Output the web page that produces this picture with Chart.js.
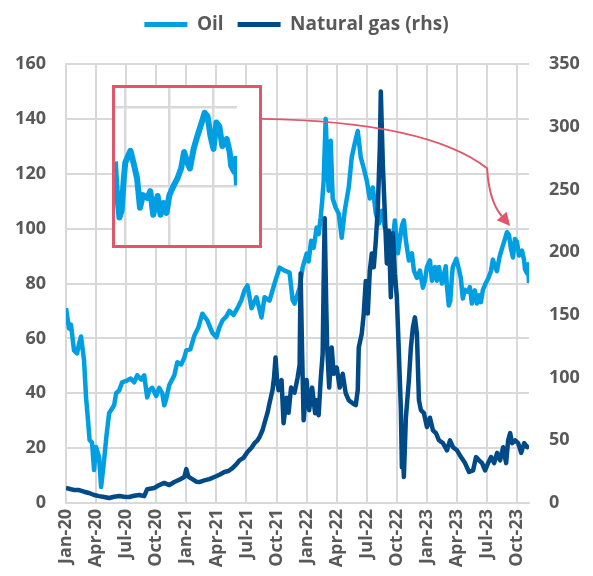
<!DOCTYPE html>
<html>
<head>
<meta charset="utf-8">
<script src="https://cdn.jsdelivr.net/npm/chart.js@4.4.0/dist/chart.umd.min.js"></script>
<style>
  body { margin: 0; background: #fff; }
  #wrap { position: relative; width: 593px; height: 576px; }
  #insetBox { position: absolute; left: 112px; top: 85px; width: 144px; height: 157px;
              border: 3px solid #e0566b; background: #fff; }
</style>
</head>
<body>
<div id="wrap">
  <canvas id="mainChart" width="593" height="576"></canvas>
  <div id="insetBox"><canvas id="insetChart" width="144" height="157"></canvas></div>
</div>
<script>
// months since Jan-20 (x) and prices
const xLabels = ["Jan-20","Apr-20","Jul-20","Oct-20","Jan-21","Apr-21","Jul-21","Oct-21",
                 "Jan-22","Apr-22","Jul-22","Oct-22","Jan-23","Apr-23","Jul-23","Oct-23"];

const oilMonths = [0,0.3,0.5,0.8,1.1,1.3,1.5,1.8,2.0,2.2,2.35,2.6,2.8,3.0,3.3,3.5,3.8,4.05,4.3,4.8,
  5.0,5.3,5.6,6.0,6.45,6.8,7.1,7.5,7.8,8.1,8.3,8.6,9.0,9.3,9.6,9.8,10.0,10.3,10.8,11.1,
  11.5,11.8,12.0,12.4,12.8,13.2,13.6,14.1,14.6,15.0,15.3,15.6,16.0,16.3,16.7,17.1,17.5,17.8,18.1,18.5,
  19.0,19.5,19.8,20.3,20.8,21.3,21.8,22.3,22.6,22.8,23.0,23.3,23.6,24.0,24.2,24.45,24.7,25.0,25.2,25.4,
  25.55,25.7,25.9,26.05,26.2,26.4,26.6,26.9,27.2,27.5,27.8,28.2,28.5,28.8,29.1,29.4,29.7,30.0,30.3,30.6,
  30.9,31.2,31.5,31.8,32.2,32.5,32.8,33.1,33.5,33.7,33.9,34.2,34.5,34.7,35.0,35.3,35.6,35.8,36.0,36.3,
  36.5,36.8,37.0,37.2,37.5,37.88,37.98,38.18,38.33,38.48,38.58,38.93,39.18,39.38,39.58,39.78,40.08,40.28,40.48,40.78,
  40.98,41.18,41.38,41.58,41.88,42.13,42.38,42.58,42.78,42.98,43.23,43.48,43.78,43.98,44.18,44.38,44.58,44.78,44.98,45.18,
  45.48,45.68,45.78,45.98,46.08,46.18];
const oilPrices = [71,63.6,65,55.6,54.5,58,60.7,52,38.5,30,23,22,12,20.4,16.7,5.8,15.6,25,32.7,35.6,
  40,41,44,44.5,45.4,44,46.5,45,46.5,38.5,41,42,39,42,40,35.6,38,43,46.5,51.3,
  50.5,53,55.6,56,61,64,69,66.5,62,60.4,64,66.5,68,70,68.5,71,74,77.5,79.3,71,
  75,67.6,75,73.8,80,85.8,84.7,84,74,72.7,75,78.5,85.8,90.9,88,95.6,93,100.4,98,104,
  110,117.5,140,125,113.8,132,111,107.6,105.5,96.7,106.5,115,126,131,135.6,126,122,117.5,111,115,
  105.5,101.8,106.5,100.4,96.7,93,103,91,101,103,95.6,88.4,91,84.7,82,84.7,78.5,81,86,88.4,
  81,86,81,86,80,86.3,79.5,72,73.7,82,86,89,85.3,82,74.5,77.7,77,78.7,72.7,77.5,
  72.7,75.7,73.2,77.7,80.2,82,84.5,88.7,86.2,84.5,89.5,92.7,96.2,98.7,97.7,92.7,89.5,96.2,95.2,90.2,
  92,88.7,85.2,83.7,87,80.2];

const gasMonths = [0,0.5,0.9,1.3,1.8,2.3,2.8,3.3,3.8,4.3,4.8,5.3,5.8,6.3,6.8,7.3,7.8,8.1,8.5,8.8,
  9.3,9.8,10.3,10.8,11.3,11.8,12.0,12.2,12.6,13.0,13.3,13.8,14.3,14.8,15.3,15.8,16.2,16.6,17.0,17.3,
  17.7,18.1,18.5,18.8,19.1,19.3,19.6,19.8,20.1,20.3,20.6,20.75,20.9,21.05,21.2,21.5,21.7,22.0,22.2,22.45,
  22.8,23.1,23.3,23.4,23.55,23.7,24.0,24.25,24.55,24.85,25.0,25.2,25.4,25.6,25.7,25.8,25.95,26.05,26.25,26.5,
  26.7,27.0,27.3,27.6,27.9,28.2,28.6,28.9,29.1,29.2,29.5,29.7,29.9,30.1,30.3,30.5,30.7,30.9,31.1,31.3,
  31.4,31.6,31.8,32.0,32.2,32.4,32.6,32.8,33.0,33.2,33.4,33.5,33.6,33.7,33.9,34.2,34.4,34.6,34.8,35.0,
  35.2,35.4,35.7,36.0,36.3,36.6,36.9,37.2,37.6,38.0,38.3,38.6,39.0,39.4,39.8,40.2,40.6,40.9,41.2,41.5,
  41.8,42.1,42.4,42.7,43.0,43.3,43.6,43.9,44.1,44.3,44.5,44.8,45.1,45.4,45.7,46.0,46.18];
const gasPrices = [12,11,10.3,10.3,9,8,6.4,5.5,4.8,4,5,5.6,5,4.8,5.8,6.4,5.5,11,11.5,12,
  14.3,16,14.3,16.7,18.5,20.7,27,21,19,17,16.7,18,19,20.7,22.5,24.7,25.5,27.8,31,34,
  36,40.6,44,47.7,50,52.5,58,63.6,72,79.6,90,100,116,98,90,98,63.6,84,72,92,
  88,100,110,183,120,66,98,74,92,71.6,82,70,98,119,177,227,160,124,92,124,
  103,108,92,103,87.5,82,79.5,78,90,124,135,151,177,151,185,199,188,209,235,283,
  328,270,231,191,217,164,215,183,164,120,75,28.6,40,20.7,68,98,124,140,148,135,
  82,74,71.6,60.5,68,58,55.7,50,47.7,42,50,44.5,42,36.6,31.8,24.7,26,36.6,34,31.8,
  26,31.8,36.6,31.8,40,34,44.5,31.8,50,55.7,47.7,50,47.7,40,47.7,44.5,46];

// inset zoom window (oil only) and its grid
const insetStart = 37.88;
const insetGridMonths = [38.58, 41.58, 44.58];
const insetGridPrices = [80, 100];

const grey = '#595959';
const gridColor = '#d9d9d9';
const oilColor = '#009fe3';
const gasColor = '#004a87';
const arrowColor = '#e0566b';

Chart.defaults.font.family = "'Open Sans', sans-serif";
Chart.defaults.font.weight = 'bold';
Chart.defaults.font.size = 18;
Chart.defaults.color = grey;

function toPoints(xs, ys) {
  return xs.map((x, i) => ({ x: x, y: ys[i] }));
}

const oilData = toPoints(oilMonths, oilPrices);
const gasData = toPoints(gasMonths, gasPrices);
const lastMonth = oilMonths[oilMonths.length - 1];

// empty box between legend and plot
const spacerPlugin = {
  id: 'spacer',
  beforeInit(chart) {
    Chart.layouts.addBox(chart, {
      position: 'top', weight: 1, fullSize: true, options: {},
      top: 0, left: 0, right: 0, bottom: 0, width: 0, height: 0,
      isHorizontal() { return true; },
      update(maxWidth) { this.width = maxWidth; this.height = 20; },
      draw() {}
    });
  }
};

// red curved arrow from the inset to the recent oil peak
const arrowPlugin = {
  id: 'arrow',
  afterDatasetsDraw(chart) {
    const xs = chart.scales.x, ys = chart.scales.y;
    const ctx = chart.ctx;
    const sx = xs.getPixelForValue(19.5), sy = ys.getPixelForValue(140);
    const cx = xs.getPixelForValue(36), cy = ys.getPixelForValue(139);
    const kx = xs.getPixelForValue(42), ky = ys.getPixelForValue(122);
    const tx = xs.getPixelForValue(44.3), ty = ys.getPixelForValue(101);
    const c2x = kx + 2, c2y = ky + 33;
    let dx = tx - c2x, dy = ty - c2y;
    const len = Math.sqrt(dx * dx + dy * dy);
    dx /= len; dy /= len;
    const headLen = 13, headW = 6.5;
    const bx = tx - dx * headLen, by = ty - dy * headLen;
    ctx.save();
    ctx.strokeStyle = arrowColor;
    ctx.fillStyle = arrowColor;
    ctx.lineWidth = 2;
    ctx.beginPath();
    ctx.moveTo(sx, sy);
    ctx.quadraticCurveTo(cx, cy, kx, ky);
    ctx.quadraticCurveTo(c2x, c2y, bx, by);
    ctx.stroke();
    ctx.beginPath();
    ctx.moveTo(tx, ty);
    ctx.lineTo(bx - dy * headW, by + dx * headW);
    ctx.lineTo(bx + dy * headW, by - dx * headW);
    ctx.closePath();
    ctx.fill();
    ctx.restore();
  }
};

new Chart(document.getElementById('mainChart'), {
  type: 'line',
  data: {
    datasets: [{
      label: 'Oil',
      data: oilData,
      borderColor: oilColor,
      backgroundColor: oilColor,
      borderWidth: 4.5,
      borderJoinStyle: 'round',
      pointRadius: 0,
      tension: 0,
      yAxisID: 'y',
      order: 2
    }, {
      label: 'Natural gas (rhs)',
      data: gasData,
      borderColor: gasColor,
      backgroundColor: gasColor,
      borderWidth: 4.5,
      borderJoinStyle: 'round',
      pointRadius: 0,
      tension: 0,
      yAxisID: 'y1',
      order: 1
    }]
  },
  options: {
    responsive: false,
    animation: false,
    layout: { padding: { top: 1 } },
    plugins: {
      legend: {
        position: 'top',
        labels: {
          boxWidth: 43,
          boxHeight: 5,
          padding: 14,
          color: grey,
          font: { size: 19, weight: 'bold' },
          sort: (a, b) => a.datasetIndex - b.datasetIndex,
          generateLabels(chart) {
            const items = Chart.defaults.plugins.legend.labels.generateLabels(chart);
            items.forEach(it => { it.lineWidth = 0; });
            return items;
          }
        }
      },
      tooltip: { enabled: false }
    },
    scales: {
      x: {
        type: 'linear',
        min: 0,
        max: lastMonth,
        afterBuildTicks(scale) {
          scale.ticks = xLabels.map((l, i) => ({ value: i * 3 }));
        },
        afterFit(scale) { scale.height = 73; },
        ticks: {
          autoSkip: false,
          maxRotation: 90,
          minRotation: 90,
          padding: 6,
          callback: (v) => xLabels[Math.round(v / 3)]
        },
        grid: { color: gridColor, lineWidth: 2, drawTicks: false },
        border: { color: gridColor, width: 2 }
      },
      y: {
        position: 'left',
        min: 0,
        max: 160,
        afterFit(scale) { scale.width = 66; },
        ticks: { stepSize: 20, padding: 20 },
        grid: { color: gridColor, lineWidth: 2, drawTicks: false },
        border: { color: gridColor, width: 2 }
      },
      y1: {
        position: 'right',
        min: 0,
        max: 350,
        afterFit(scale) { scale.width = 64; },
        ticks: { stepSize: 50, padding: 20 },
        grid: { display: false, drawTicks: false },
        border: { display: false }
      }
    }
  },
  plugins: [spacerPlugin, arrowPlugin]
});

// inset: zoom of the oil line over the last months
const insetData = oilData.filter(p => p.x >= insetStart);

new Chart(document.getElementById('insetChart'), {
  type: 'line',
  data: {
    datasets: [{
      data: insetData,
      borderColor: oilColor,
      borderWidth: 6,
      borderJoinStyle: 'round',
      pointRadius: 0,
      tension: 0
    }]
  },
  options: {
    responsive: false,
    animation: false,
    layout: { padding: { right: 22 } },
    plugins: { legend: { display: false }, tooltip: { enabled: false } },
    scales: {
      x: {
        type: 'linear',
        min: insetStart,
        max: lastMonth,
        afterBuildTicks(scale) {
          scale.ticks = insetGridMonths.map(v => ({ value: v }));
        },
        ticks: { display: false },
        grid: { color: gridColor, lineWidth: 2.5, drawTicks: false },
        border: { display: false }
      },
      y: {
        type: 'linear',
        min: 65,
        max: 105,
        afterBuildTicks(scale) {
          scale.ticks = insetGridPrices.map(v => ({ value: v }));
        },
        ticks: { display: false },
        grid: { color: gridColor, lineWidth: 2.5, drawTicks: false },
        border: { display: false }
      }
    }
  }
});
</script>
</body>
</html>
